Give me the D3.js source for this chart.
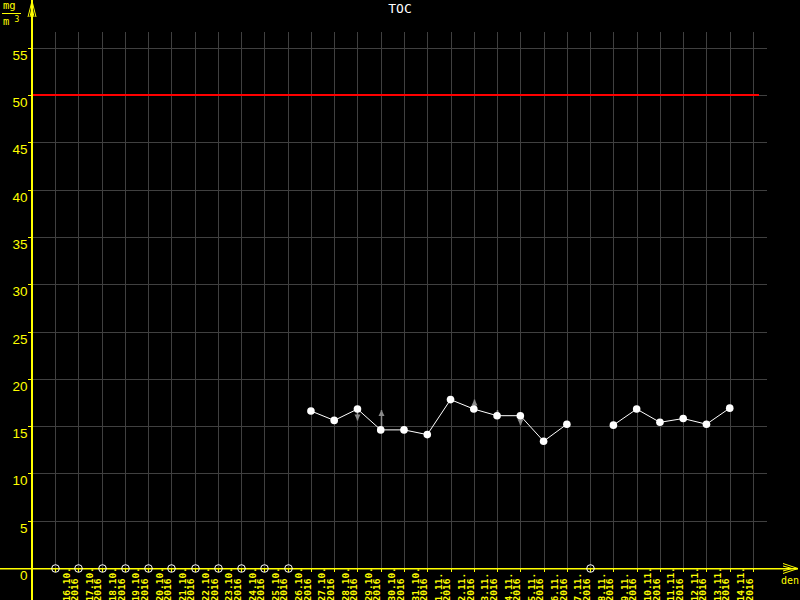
<!DOCTYPE html>
<html>
<head>
<meta charset="utf-8">
<script src="https://cdn.jsdelivr.net/npm/d3@7"></script>
<style>
  html, body { margin: 0; padding: 0; background: #000; }
  svg { display: block; }
</style>
</head>
<body>
<script>
// ---- data ----
const title = "TOC";
const unitTop = "mg";
const unitBottom = "m";
const xAxisName = "den";
const dateLabels = ["16.10.","17.10.","18.10.","19.10.","20.10.","21.10.","22.10.","23.10.","24.10.","25.10.",
  "26.10.","27.10.","28.10.","29.10.","30.10.","31.10.","1.11.","2.11.","3.11.","4.11.",
  "5.11.","6.11.","7.11.","8.11.","9.11.","10.11.","11.11.","12.11.","13.11.","14.11."];
const yearLabel = "2016";
// null = no measurement (drawn as hollow marker on axis)
const tocValues = [null,null,null,null,null,null,null,null,null,null,null,
  16.6,15.6,16.8,14.6,14.6,14.1,17.8,16.8,16.1,16.1,13.4,15.2,null,15.1,16.8,15.4,15.8,15.2,16.9];
const arrowIndex = [13,14,18,19,20];
const arrowTo = [15.6,16.7,17.8,16.7,15.1];
const limitValue = 50;
const yTicks = [0,5,10,15,20,25,30,35,40,45,50,55];

// ---- layout ----
const W = 800, H = 600;
const axisX = 32, axisY = 568;
const svg = d3.select("body").append("svg").attr("width", W).attr("height", H)
  .style("background", "#000");

const x = d3.scaleLinear().domain([0, dateLabels.length]).range([55, 753]);
const y = d3.scaleLinear().domain([0, 55]).range([axisY, 47.7]);

const gridColor = "#404040";
const yellow = "#ffff00";

// vertical grid lines
const gridIdx = d3.range(dateLabels.length + 1);
svg.append("g").selectAll("line").data(gridIdx).join("line")
  .attr("x1", d => Math.round(x(d)) + 0.5).attr("x2", d => Math.round(x(d)) + 0.5)
  .attr("y1", 32).attr("y2", axisY)
  .attr("stroke", gridColor).attr("stroke-width", 1);

// horizontal grid lines
svg.append("g").selectAll("line").data(yTicks.filter(t => t > 0)).join("line")
  .attr("x1", axisX).attr("x2", 767)
  .attr("y1", d => Math.round(y(d)) + 0.5).attr("y2", d => Math.round(y(d)) + 0.5)
  .attr("stroke", gridColor).attr("stroke-width", 1);

// limit line
svg.append("line")
  .attr("x1", axisX + 1).attr("x2", 759)
  .attr("y1", Math.round(y(limitValue))).attr("y2", Math.round(y(limitValue)))
  .attr("stroke", "#ff0000").attr("stroke-width", 2);

// axes
svg.append("line").attr("x1", 0).attr("x2", 798).attr("y1", axisY + 0.75).attr("y2", axisY + 0.75)
  .attr("stroke", yellow).attr("stroke-width", 1.5);
svg.append("line").attr("x1", axisX).attr("x2", axisX).attr("y1", 0).attr("y2", H)
  .attr("stroke", yellow).attr("stroke-width", 2);

// arrowheads
const arrowG = svg.append("g").attr("stroke", yellow).attr("stroke-width", 1).attr("fill", "none");
arrowG.append("path").attr("d", "M28,17 L32,1 L36,17 M30,17 L32,7 L34,17");
arrowG.append("path").attr("d", "M783,563.5 L798,568.5 L783,573.5 M783,566 L792,568.5 L783,571");

// x ticks
svg.append("g").selectAll("line").data(gridIdx).join("line")
  .attr("x1", d => Math.round(x(d)) + 0.5).attr("x2", d => Math.round(x(d)) + 0.5)
  .attr("y1", axisY).attr("y2", axisY + 4)
  .attr("stroke", yellow).attr("stroke-width", 1);

// y ticks + labels
svg.append("g").selectAll("line").data(yTicks.filter(t => t > 0)).join("line")
  .attr("x1", 28).attr("x2", axisX)
  .attr("y1", d => Math.round(y(d)) + 0.5).attr("y2", d => Math.round(y(d)) + 0.5)
  .attr("stroke", yellow).attr("stroke-width", 1);
svg.append("g").selectAll("text").data(yTicks).join("text")
  .attr("x", 27.5).attr("y", d => y(d) + 12)
  .attr("text-anchor", "end")
  .attr("font-family", "Liberation Sans, Arial, sans-serif")
  .attr("font-size", "13.5px")
  .attr("fill", yellow)
  .text(d => d);

// x labels (rotated, two lines)
const xl = svg.append("g").attr("font-family", "DejaVu Sans Mono, monospace")
  .attr("font-size", "9.5px").attr("font-weight", "bold").attr("fill", yellow);
dateLabels.forEach((lab, i) => {
  const gx = x(i);
  xl.append("text")
    .attr("transform", `translate(${gx + 14.5},601.5) rotate(-90)`)
    .attr("text-anchor", "start").text(lab);
  xl.append("text")
    .attr("transform", `translate(${gx + 23},601.5) rotate(-90)`)
    .attr("text-anchor", "start").text(yearLabel);
});

// axis name
svg.append("text").attr("x", 790).attr("y", 584).attr("text-anchor", "middle")
  .attr("font-family", "DejaVu Sans Mono, monospace").attr("font-size", "10px")
  .attr("fill", yellow).text(xAxisName);

// unit label
const ug = svg.append("g").attr("fill", yellow)
  .attr("font-family", "DejaVu Sans Mono, monospace").attr("font-size", "10.5px");
ug.append("text").attr("x", 3).attr("y", 8.5).text(unitTop);
ug.append("line").attr("x1", 2).attr("x2", 21).attr("y1", 13.5).attr("y2", 13.5)
  .attr("stroke", yellow).attr("stroke-width", 1);
ug.append("text").attr("x", 3).attr("y", 25).text(unitBottom);
ug.append("text").attr("x", 14.5).attr("y", 22).attr("font-size", "8px").text("3");

// title
svg.append("text").attr("x", 400).attr("y", 13).attr("text-anchor", "middle")
  .attr("font-family", "DejaVu Sans Mono, monospace").attr("font-size", "13px")
  .attr("fill", "#ffffff").text(title);

// data line
const pts = tocValues.map((v, i) => ({ i, v }));
const line = d3.line().defined(d => d.v !== null)
  .x(d => x(d.i)).y(d => y(d.v));
svg.append("path").datum(pts).attr("d", line)
  .attr("fill", "none").attr("stroke", "#ffffff").attr("stroke-width", 1);

// gray arrows
const ag = svg.append("g").attr("stroke", "#8a8a8a").attr("fill", "#8a8a8a");
arrowIndex.forEach((k, j) => {
  const px = Math.round(x(k)) + 0.5;
  const y0 = y(tocValues[k]);
  const y1 = y(arrowTo[j]);
  const dir = y1 < y0 ? 1 : -1; // head points up if 1
  ag.append("line").attr("x1", px).attr("x2", px).attr("y1", y0).attr("y2", y1)
    .attr("stroke-width", 1.5);
  ag.append("path")
    .attr("d", `M${px},${y1} L${px - 3},${y1 + dir * 6} L${px + 3},${y1 + dir * 6} Z`)
    .attr("stroke", "none");
});

// points
svg.append("g").selectAll("circle").data(pts.filter(d => d.v !== null)).join("circle")
  .attr("cx", d => x(d.i)).attr("cy", d => y(d.v)).attr("r", 3.8)
  .attr("fill", "#ffffff");

// missing markers
svg.append("g").selectAll("circle").data(pts.filter(d => d.v === null)).join("circle")
  .attr("cx", d => Math.round(x(d.i)) + 0.5).attr("cy", axisY + 0.5).attr("r", 3.8)
  .attr("fill", "none").attr("stroke", "#ffffff").attr("stroke-width", 1);
</script>
</body>
</html>
